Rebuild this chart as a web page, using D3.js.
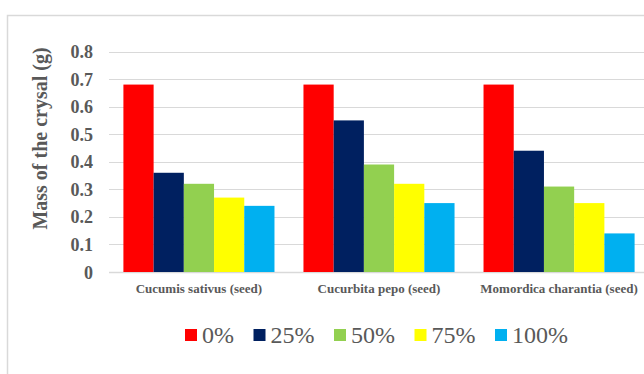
<!DOCTYPE html>
<html>
<head>
<meta charset="utf-8">
<script src="https://cdn.jsdelivr.net/npm/d3@7"></script>
<style>
  body { margin: 0; background: #fff; }
  svg { display: block; }
  text { font-family: "Liberation Serif", "Times New Roman", "DejaVu Serif", serif; }
</style>
</head>
<body>
<div id="chart"></div>
<script>
// data
const categories = ["Cucumis sativus (seed)", "Cucurbita pepo (seed)", "Momordica charantia (seed)"];
const seriesNames = ["0%", "25%", "50%", "75%", "100%"];
const seriesColors = ["#ff0000", "#002060", "#92d050", "#ffff00", "#00b0f0"];
const values = [
    [0.68, 0.36, 0.32, 0.27, 0.24],
    [0.68, 0.55, 0.39, 0.32, 0.25],
    [0.68, 0.44, 0.31, 0.25, 0.14]
];
const yTicks = [0, 0.1, 0.2, 0.3, 0.4, 0.5, 0.6, 0.7, 0.8];

const width = 644, height = 374;
const margin = { top: 51.5, right: -5, bottom: 102, left: 109 };
const textColor = "#595959";
const gridColor = "#d9d9d9";

const svg = d3.select("#chart").append("svg")
    .attr("width", width)
    .attr("height", height);

// outer chart frame
svg.append("rect")
    .attr("x", 7.5).attr("y", 15.5)
    .attr("width", 800).attr("height", 600)
    .attr("fill", "#fff")
    .attr("stroke", gridColor)
    .attr("stroke-width", 1.5);

const x0 = d3.scaleBand()
    .domain(categories)
    .range([margin.left, width - margin.right])
    .paddingInner(0.161)
    .paddingOuter(0.08);

const x1 = d3.scaleBand()
    .domain(seriesNames)
    .range([0, x0.bandwidth()]);

const y = d3.scaleLinear()
    .domain([0, 0.8])
    .range([height - margin.bottom, margin.top]);

// gridlines
svg.append("g")
    .selectAll("line")
    .data(yTicks)
    .join("line")
    .attr("x1", margin.left)
    .attr("x2", width)
    .attr("y1", d => Math.round(y(d)) + 0.5)
    .attr("y2", d => Math.round(y(d)) + 0.5)
    .attr("stroke", gridColor)
    .attr("stroke-width", d => d === 0 ? 1.5 : 1.2);

// bars
const groups = svg.append("g")
    .selectAll("g")
    .data(values)
    .join("g")
    .attr("transform", (d, i) => "translate(" + x0(categories[i]) + ",0)");

groups.selectAll("rect")
    .data(d => d.map((v, j) => ({ name: seriesNames[j], value: v, color: seriesColors[j] })))
    .join("rect")
    .attr("x", d => x1(d.name))
    .attr("y", d => y(d.value))
    .attr("width", x1.bandwidth())
    .attr("height", d => y(0) - y(d.value))
    .attr("fill", d => d.color);

// y tick labels
svg.append("g")
    .selectAll("text")
    .data(yTicks)
    .join("text")
    .attr("x", 93)
    .attr("y", d => y(d) + 6.5)
    .attr("text-anchor", "end")
    .attr("font-weight", "bold")
    .attr("font-size", 18)
    .attr("fill", textColor)
    .text(d => d === 0 ? "0" : d.toFixed(1));

// y axis title
svg.append("text")
    .attr("transform", "translate(46.5,138.5) rotate(-90)")
    .attr("text-anchor", "middle")
    .attr("font-weight", "bold")
    .attr("font-size", 20)
    .attr("fill", textColor)
    .text("Mass of the crysal (g)");

// category labels
svg.append("g")
    .selectAll("text")
    .data(categories)
    .join("text")
    .attr("x", d => x0(d) + x0.bandwidth() / 2)
    .attr("y", 293)
    .attr("text-anchor", "middle")
    .attr("font-weight", "bold")
    .attr("font-size", 13)
    .attr("fill", textColor)
    .text(d => d);

// legend
const legend = svg.append("g");
let lx = 185;
seriesNames.forEach((name, i) => {
    legend.append("rect")
        .attr("x", lx).attr("y", 329)
        .attr("width", 12).attr("height", 12)
        .attr("fill", seriesColors[i]);
    const t = legend.append("text")
        .attr("x", lx + 17)
        .attr("y", 342.5)
        .attr("font-weight", "normal")
        .attr("font-size", 24)
        .attr("fill", textColor)
        .text(name);
    lx += 17 + t.node().getComputedTextLength() + 19.5;
});
</script>
</body>
</html>
